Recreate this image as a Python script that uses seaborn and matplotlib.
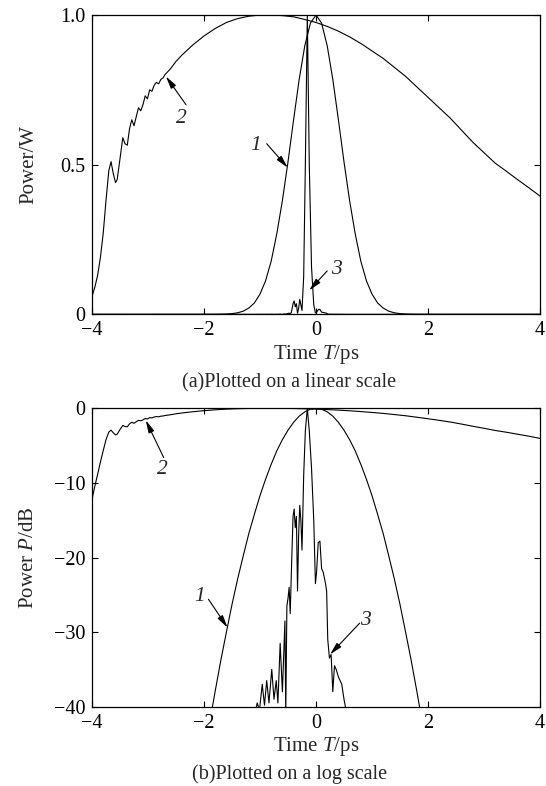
import numpy as np
import pandas as pd
import matplotlib
matplotlib.use("Agg")
import matplotlib.pyplot as plt
import seaborn as sns

# curve 1: input pulse
t1 = [-4.0, -2.2, -2.0, -1.9, -1.8, -1.7, -1.6, -1.5, -1.4, -1.3, -1.2, -1.1, -1.0,
      -0.9, -0.8, -0.7, -0.6, -0.5, -0.4, -0.3, -0.2, -0.1, 0.0,
      0.1, 0.2, 0.3, 0.4, 0.5, 0.6, 0.7, 0.8, 0.9, 1.0, 1.1, 1.2,
      1.3, 1.4, 1.5, 1.6, 1.7, 1.8, 1.9, 2.0, 2.2, 4.0]
db1 = [-100, -56.6, -46.8, -42.2, -37.9, -33.8, -30.0, -26.3, -22.9, -19.8, -16.8, -14.2, -11.7,
       -9.5, -7.5, -5.7, -4.2, -2.93, -1.87, -1.05, -0.47, -0.12, 0.0,
       -0.12, -0.47, -1.05, -1.87, -2.93, -4.2, -5.7, -7.5, -9.5, -11.7, -14.2, -16.8,
       -19.8, -22.9, -26.3, -30.0, -33.8, -37.9, -42.2, -46.8, -56.6, -100]

# curve 2: broadened pulse
t2 = [-4.0, -3.95, -3.9, -3.85, -3.8, -3.75, -3.7, -3.66, -3.62, -3.58, -3.55, -3.5,
      -3.45, -3.41, -3.37, -3.33, -3.29, -3.25, -3.21, -3.17, -3.13, -3.09,
      -3.05, -3.01, -2.97, -2.93, -2.89, -2.85, -2.81, -2.77, -2.73, -2.7,
      -2.6, -2.5, -2.4, -2.2, -2.0, -1.8, -1.6, -1.4, -1.2, -1.0, -0.8,
      -0.6, -0.4, -0.2, 0.0, 0.2, 0.4, 0.6, 0.8, 1.0, 1.2, 1.4, 1.6, 1.8,
      2.0, 2.2, 2.4, 2.6, 2.8, 3.0, 3.2, 3.4, 3.6, 3.8, 4.0]
p2 = [0.06, 0.09, 0.13, 0.19, 0.27, 0.38, 0.48, 0.51, 0.47, 0.44, 0.45, 0.52,
      0.59, 0.57, 0.565, 0.62, 0.65, 0.63, 0.66, 0.69, 0.68, 0.70,
      0.73, 0.72, 0.75, 0.745, 0.765, 0.775, 0.77, 0.785, 0.79, 0.80,
      0.82, 0.845, 0.865, 0.90, 0.93, 0.955, 0.975, 0.988, 0.996, 1.0, 1.0,
      0.998, 0.994, 0.985, 0.975, 0.962, 0.946, 0.927, 0.905, 0.88, 0.855, 0.825, 0.795, 0.76,
      0.725, 0.69, 0.655, 0.615, 0.575, 0.54, 0.505, 0.478, 0.45, 0.423, 0.395]

# curve 3: compressed pulse with pedestal
t3 = [-4.0, -1.12, -1.05, -1.01, -0.96, -0.92, -0.88, -0.84, -0.79, -0.75,
      -0.71, -0.68, -0.64, -0.60, -0.555, -0.54, -0.52, -0.50,
      -0.48, -0.46, -0.44, -0.41, -0.39, -0.37, -0.35, -0.33, -0.31, -0.29, -0.27,
      -0.25, -0.22, -0.19, -0.155, -0.12, -0.08, -0.04, -0.01, 0.01, 0.04, 0.07,
      0.10, 0.13, 0.17, 0.19, 0.21, 0.24, 0.27, 0.30, 0.33, 0.36, 0.40, 0.46,
      0.50, 0.55, 0.60, 4.0]
db3 = [-100, -42, -39.5, -40.5, -37.0, -39.8, -36.5, -39.5, -35.0, -39.0,
       -36.5, -39.5, -31.5, -38.0, -28.5, -41.0, -26.5, -25.5,
       -24.0, -27.5, -22.0, -14.5, -13.5, -16.0, -14.5, -24.5, -17.0, -13.0, -15.0,
       -19.0, -9.0, -3.0, 0.0, -3.0, -8.0, -15.0, -23.5, -22.0, -18.0, -17.8,
       -21.5, -22.0, -23.5, -24.5, -31.0, -33.5, -33.0, -38.0, -34.5, -35.0, -36.0, -37.0,
       -39.0, -41.0, -45.0, -100]

x_ticks = [-4, -2, 0, 2, 4]
x_ticklabels = ["\u22124", "\u22122", "0", "2", "4"]
lin_ticks = [0, 0.5, 1.0]
lin_ticklabels = ["0", "0.5", "1.0"]
db_ticks = [0, -10, -20, -30, -40]
db_ticklabels = ["0", "\u221210", "\u221220", "\u221230", "\u221240"]

sns.set_style("ticks")
plt.rcParams["font.family"] = ["Liberation Serif", "DejaVu Serif"]
plt.rcParams["mathtext.fontset"] = "custom"
plt.rcParams["mathtext.rm"] = "Liberation Serif"
plt.rcParams["mathtext.it"] = "Liberation Serif:italic"

df1 = pd.DataFrame({"t": t1, "db": db1})
df1["p"] = 10 ** (df1["db"] / 10)
df2 = pd.DataFrame({"t": t2, "p": p2})
df2["db"] = 10 * np.log10(df2["p"])
df3 = pd.DataFrame({"t": t3, "db": db3})
df3["p"] = 10 ** (df3["db"] / 10)

fig = plt.figure(figsize=(5.46, 7.86), dpi=100)
ax1 = fig.add_axes([0.1685, 0.6001, 0.8205, 0.3808])
ax2 = fig.add_axes([0.1685, 0.1009, 0.8205, 0.3796])

for ax, col in [(ax1, "p"), (ax2, "db")]:
    for df in (df1, df2, df3):
        sns.lineplot(data=df, x="t", y=col, ax=ax, sort=False, estimator=None,
                     color="black", lw=0.8)
    ax.set_xlim(-4, 4)
    ax.set_xticks(x_ticks)
    ax.set_xticklabels(x_ticklabels)
    ax.tick_params(direction="in", top=True, right=True, length=4, width=0.8,
                   labelsize=14.5, pad=5, colors="black")
    for s in ax.spines.values():
        s.set_linewidth(0.9)
        s.set_color("black")
    ax.set_xlabel("Time $T$/ps", fontsize=15, labelpad=2)

ax1.set_ylim(0, 1.0)
ax1.set_yticks(lin_ticks)
ax1.set_yticklabels(lin_ticklabels)
ax1.set_ylabel("Power/W", fontsize=15)
ax1.yaxis.set_label_coords(-0.12, 0.5)

ax2.set_ylim(-40, 0)
ax2.set_yticks(db_ticks)
ax2.set_yticklabels(db_ticklabels)
ax2.set_ylabel("Power $P$/dB", fontsize=15)
ax2.yaxis.set_label_coords(-0.12, 0.5)

arrow = dict(arrowstyle="-|>,head_width=0.18,head_length=0.75", color="black", lw=0.8,
             shrinkA=0, shrinkB=0)
lab = dict(fontsize=15.5, style="italic", ha="center", va="center")

ax1.annotate("", xy=(-2.68, 0.795), xytext=(-2.32, 0.70), arrowprops=arrow)
ax1.text(-2.4, 0.655, "2", **lab)
ax1.annotate("", xy=(-0.505, 0.49), xytext=(-0.88, 0.57), arrowprops=arrow)
ax1.text(-1.07, 0.565, "1", **lab)
ax1.annotate("", xy=(-0.12, 0.08), xytext=(0.2, 0.145), arrowprops=arrow)
ax1.text(0.36, 0.15, "3", **lab)

ax2.annotate("", xy=(-3.04, -1.6), xytext=(-2.72, -6.6), arrowprops=arrow)
ax2.text(-2.74, -8.2, "2", **lab)
ax2.annotate("", xy=(-1.58, -29.4), xytext=(-1.92, -25.6), arrowprops=arrow)
ax2.text(-2.07, -25.2, "1", **lab)
ax2.annotate("", xy=(0.25, -33.0), xytext=(0.78, -28.8), arrowprops=arrow)
ax2.text(0.88, -28.5, "3", **lab)

fig.text(0.5 + 0.03, 1 - 383 / 786, "(a)Plotted on a linear scale", fontsize=14.5,
         ha="center", va="center")
fig.text(0.5 + 0.03, 1 - 774 / 786, "(b)Plotted on a log scale", fontsize=14.5,
         ha="center", va="center")

fig.savefig("out.png", dpi=100)
